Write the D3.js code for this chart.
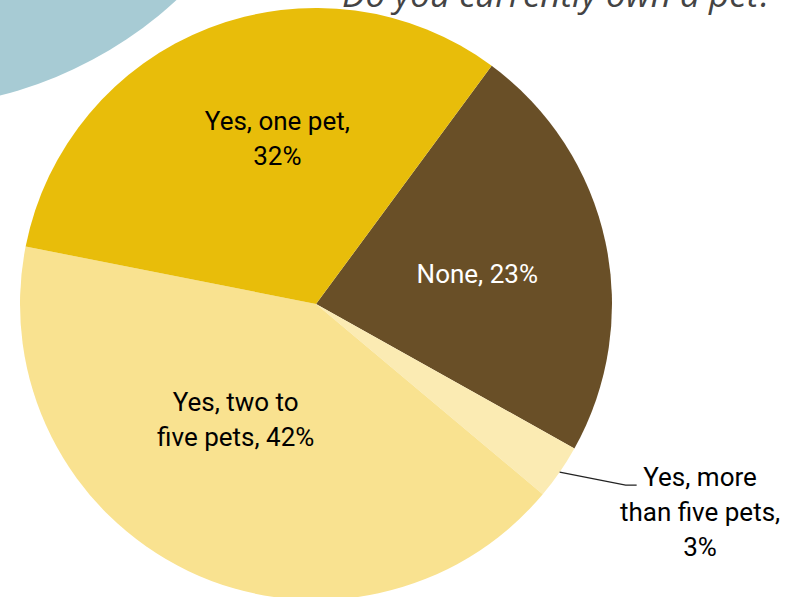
<!DOCTYPE html>
<html>
<head>
<meta charset="utf-8">
<script src="https://cdn.jsdelivr.net/npm/d3@7"></script>
<style>
  html, body { margin: 0; padding: 0; background: #ffffff; overflow: hidden; }
  svg { display: block; }
</style>
</head>
<body>
<svg id="chart" width="804" height="597"></svg>
<script>
// ---- data ----
const categories = ["None", "Yes, more than five pets", "Yes, two to five pets", "Yes, one pet"];
const values = [23, 3, 42, 32];
const labelLines = [
  ["None, 23%"],
  ["Yes, more", "than five pets,", "3%"],
  ["Yes, two to", "five pets, 42%"],
  ["Yes, one pet,", "32%"]
];
const titleText = "Do you currently own a pet?";

// ---- layout / style ----
const W = 804, H = 597;
const cx = 316, cy = 304, R = 296;
const colors = ["#694f27", "#fbebb3", "#f9e290", "#e8bd0a"];
const textColors = ["#ffffff", "#000000", "#000000", "#000000"];
const startDeg = 36.4;
const fontSize = 26, lineH = 35;

const svg = d3.select("#chart");

// decorative teal circle
svg.append("circle")
  .attr("cx", -100).attr("cy", -300).attr("r", 408)
  .attr("fill", "#a7cbd4");

// title
svg.append("text")
  .attr("x", 342).attr("y", 7)
  .attr("font-family", "'Open Sans', sans-serif")
  .attr("font-style", "italic")
  .attr("font-size", 35)
  .attr("fill", "#444444")
  .text(titleText);

const data = categories.map((c, i) => ({ cat: c, value: values[i], lines: labelLines[i], i }));

const start = startDeg * Math.PI / 180;
const pie = d3.pie().sort(null).value(d => d.value)
  .startAngle(start).endAngle(start + 2 * Math.PI);
const arcs = pie(data);

const arc = d3.arc().innerRadius(0).outerRadius(R);
const labelArc = d3.arc().innerRadius(165).outerRadius(165);

const g = svg.append("g").attr("transform", `translate(${cx},${cy})`);

g.selectAll("path.slice")
  .data(arcs)
  .join("path")
  .attr("class", "slice")
  .attr("d", arc)
  .attr("fill", d => colors[d.data.i]);

// inside labels (nudges relative to label-arc centroid)
const nudges = { 0: [0, 5], 2: [-9, -33], 3: [21, -12] };
const inside = arcs.filter(d => d.data.i !== 1);
inside.forEach(d => {
  const [x0, y0] = labelArc.centroid(d);
  const [nx, ny] = nudges[d.data.i];
  const x = x0 + nx, y = y0 + ny;
  const n = d.data.lines.length;
  const t = g.append("text")
    .attr("text-anchor", "middle")
    .attr("font-family", "Roboto, sans-serif")
    .attr("font-size", fontSize)
    .attr("fill", textColors[d.data.i]);
  d.data.lines.forEach((ln, k) => {
    t.append("tspan")
      .attr("x", x)
      .attr("y", y + (k - (n - 1) / 2) * lineH + fontSize * 0.35)
      .text(ln);
  });
});

// outside label with leader line for the small slice
const small = arcs.find(d => d.data.i === 1);
const mid = (small.startAngle + small.endAngle) / 2;
const p0 = [Math.sin(mid) * R, -Math.cos(mid) * R];
const p1 = [p0[0] + 66, p0[1] + 13];
const p2 = [p1[0] + 11, p1[1]];
g.append("polyline")
  .attr("points", [p0, p1, p2].map(p => p.join(",")).join(" "))
  .attr("fill", "none")
  .attr("stroke", "#222222")
  .attr("stroke-width", 1.2);

const tx = p2[0] + 63.4, ty0 = p2[1] + 1;
const st = g.append("text")
  .attr("text-anchor", "middle")
  .attr("font-family", "Roboto, sans-serif")
  .attr("font-size", fontSize)
  .attr("fill", textColors[1]);
small.data.lines.forEach((ln, k) => {
  st.append("tspan")
    .attr("x", tx)
    .attr("y", ty0 + k * 35)
    .text(ln);
});
</script>
</body>
</html>
